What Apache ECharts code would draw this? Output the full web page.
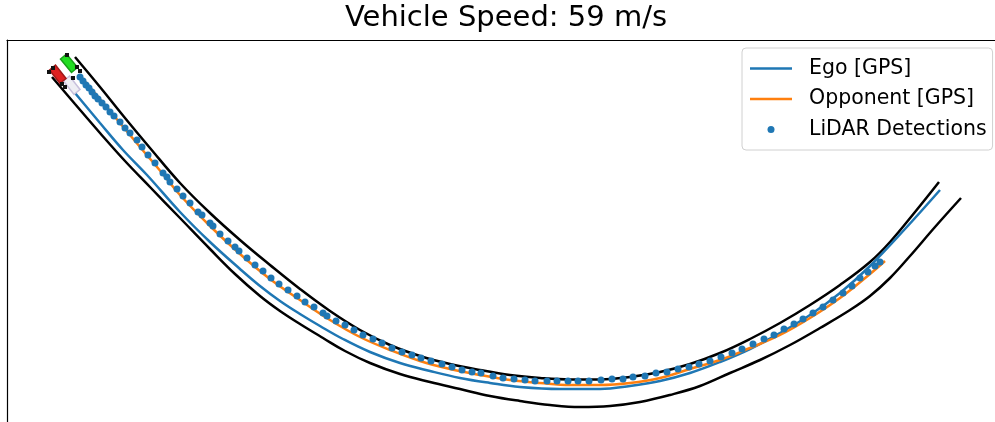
<!DOCTYPE html>
<html>
<head>
<meta charset="utf-8">
<script src="https://cdn.jsdelivr.net/npm/echarts@6/dist/echarts.min.js"></script>
<style>
html, body {margin: 0; padding: 0; background: #fff;}
#main {width: 995px; height: 422px;}
</style>
</head>
<body>
<div id="main"></div>
<script>
// map units, y grows downwards
var aTrackInner = [[75,57],[100,87],[125,118],[150,148],[180,183],[210,213],[240,240],[270,265],[300,289],[330,311],[360,330],[390,345],[420,356],[450,364],[480,370],[510,375],[540,378],[570,379.5],[600,379.5],[630,377],[660,372],[690,364],[720,353],[750,339],[780,323],[810,305],[840,285],[870,262],[890,242],[915,212],[939,182]];
var aTrackOuter = [[52,77],[75,104],[100,133],[125,161],[150,187],[180,218],[210,249],[235,274],[260,296],[280,311],[300,324],[323,338],[345,351],[370,363],[400,374],[430,382],[460,389],[490,396],[520,401],[550,405],[580,407],[610,406],[640,402],[670,395],[700,386],[730,373],[760,360],[790,345],[820,328],[850,310],[870,296],[890,278],[910,256],[935,227],[961,198]];
var aEgo = [[75,93],[100,123],[123,150],[147,175],[180,212],[210,242],[240,269],[260,286],[280,301],[300,314],[320,326],[343,339],[370,352],[400,363],[430,371],[460,378],[490,383],[520,387],[560,389],[600,389],[630,386],[660,381],[690,373],[720,362],[750,349],[780,333],[810,315],[840,293],[870,266],[905,229],[940,190]];
var aOpponent = [[82,78],[110,111],[140,147],[162,173],[180,195],[210,226],[240,254],[270,279],[300,300],[330,320],[360,337],[390,350],[420,361],[450,369],[480,375],[510,380],[540,383],[570,385],[600,385],[630,383],[660,378],[690,369],[720,360],[750,348],[780,335],[810,318],[840,298],[870,274],[885,261]];
var aLidar = [[80,77],[83,81],[86,85],[89,88],[92,92],[95,96],[98,99],[102,103],[106,107],[110,112],[114,116],[120,122],[125,128],[130,133],[137,140],[142,147],[148,155],[155,163],[163,173],[167,177],[170,182],[177,189],[183,196],[190,203],[198,212],[202,215],[210,223],[213,226],[220,234],[228,241],[235,247],[239,251],[247,258],[255,265],[263,271],[271,278],[279,284],[288,290],[297,296],[305,302],[314,307],[323,313],[327,316],[336,321],[345,325],[354,330],[363,335],[373,339],[382,343],[392,348],[402,352],[412,355],[421,358],[431,361],[442,364],[452,367],[462,370],[472,372],[481,373],[493,376],[503,378],[514,379],[525,380],[535,381],[547,381],[557,381],[568,381],[578,381],[589,381],[601,380],[612,379],[623,379],[633,377],[645,376],[656,373],[667,372],[678,369],[689,367],[699,364],[710,361],[721,357],[732,353],[742,349],[753,344],[764,339],[774,335],[784,329],[794,324],[803,319],[813,313],[823,307],[833,300],[843,293],[852,286],[860,278],[868,272],[875,266],[880,262]];
// car boxes at the start line
var aCarGreen = [[77.5,67.5],[71.5,72.5],[60.5,59.0],[66.5,54.0]];
var aCarRed = [[66.0,78.5],[60.0,83.5],[49.5,70.0],[55.5,65.0]];
var aCarWhite = [[80.0,89.5],[74.0,94.5],[63.5,81.0],[69.5,76.0]];
var aCarMarks = [[67,55],[53,68],[49,72],[65,87],[73,78],[80,71],[77,67],[62,84]];
var aLegendNames = ['Ego [GPS]', 'Opponent [GPS]', 'LiDAR Detections'];
var sTitle = 'Vehicle Speed: 59 m/s';

var aCarShapes = [aCarWhite, aCarRed, aCarGreen];
var aCarFill = ['#eeeef4', '#dd2020', '#22dd22'];
var aCarStroke = ['#c8c0dc', '#a01818', '#18a018'];

// 图例图标：M点撑开外框，使图标保持原尺寸
var sLineIcon = 'path://M0,0M42,14M0,5.75h42v2.5h-42Z';
var sDotIcon = 'path://M0,0M14,14M10.5,7A3.5,3.5,0,1,1,3.5,7A3.5,3.5,0,1,1,10.5,7Z';

function LineSeries(sName, aData, sColor, iZ) {
    return {
        name: sName, type: 'line', data: aData, smooth: 0.4, symbol: 'none',
        color: sColor, lineStyle: {color: sColor, width: 2.5}, z: iZ
    };
}

function GetOption() {
    var sFont = 'DejaVu Sans';
    var jOption = {
        animation: false,
        backgroundColor: '#fff',
        title: {
            text: sTitle,
            left: 345,
            top: 4,
            padding: 0,
            textStyle: {fontFamily: sFont, fontSize: 29, fontWeight: 'normal', color: '#000'}
        },
        legend: {
            data: [
                {name: aLegendNames[0], icon: sLineIcon},
                {name: aLegendNames[1], icon: sLineIcon},
                {name: aLegendNames[2], icon: sDotIcon}
            ],
            orient: 'vertical',
            left: 742,
            top: 48,
            padding: [10, 6, 10, 8],
            itemWidth: 42,
            itemHeight: 14,
            itemGap: 9.5,
            backgroundColor: 'rgba(255,255,255,0.8)',
            borderColor: '#d0d0d0',
            borderWidth: 1,
            borderRadius: 4,
            selectedMode: false,
            textStyle: {fontFamily: sFont, fontSize: 20.5, color: '#000', lineHeight: 20, padding: [0, 0, 0, 12]}
        },
        //坐标区比画布大，右边和下边被裁掉
        grid: {left: 7, top: 40, width: 1000, height: 400, outerBoundsMode: 'none', containLabel: false},
        xAxis: {
            type: 'value', min: 7, max: 1007, position: 'top',
            axisLine: {show: true, onZero: false, lineStyle: {color: '#000', width: 1.2}},
            axisTick: {show: false}, axisLabel: {show: false}, splitLine: {show: false}
        },
        yAxis: {
            type: 'value', min: 40, max: 440, inverse: true,
            axisLine: {show: true, onZero: false, lineStyle: {color: '#000', width: 1.2}},
            axisTick: {show: false}, axisLabel: {show: false}, splitLine: {show: false}
        },
        series: [
            LineSeries('inner', aTrackInner, '#000', 2),
            LineSeries('outer', aTrackOuter, '#000', 2),
            LineSeries(aLegendNames[0], aEgo, '#1f77b4', 3),
            LineSeries(aLegendNames[1], aOpponent, '#ff7f0e', 3),
            {
                name: aLegendNames[2], type: 'scatter', data: aLidar, symbolSize: 7,
                color: '#1f77b4', itemStyle: {color: '#1f77b4', opacity: 1}, z: 4
            },
            {//起点处的车辆框
                name: 'cars', type: 'custom',
                data: aCarShapes.map(function (p) { return [p[0][0], p[0][1]]; }),
                renderItem: function (params, api) {
                    var aPts = aCarShapes[params.dataIndex].map(function (p) { return api.coord(p); });
                    return {
                        type: 'polygon', shape: {points: aPts},
                        style: {fill: aCarFill[params.dataIndex], stroke: aCarStroke[params.dataIndex], lineWidth: 1.5}
                    };
                },
                z: 5
            },
            {
                name: 'carMarks', type: 'scatter', data: aCarMarks, symbol: 'rect', symbolSize: 4,
                itemStyle: {color: '#111', opacity: 1}, z: 6
            }
        ]
    };
    return jOption
}

var myChart = echarts.init(document.getElementById('main'), null, {renderer: 'canvas'});
myChart.setOption(GetOption());
</script>
</body>
</html>
